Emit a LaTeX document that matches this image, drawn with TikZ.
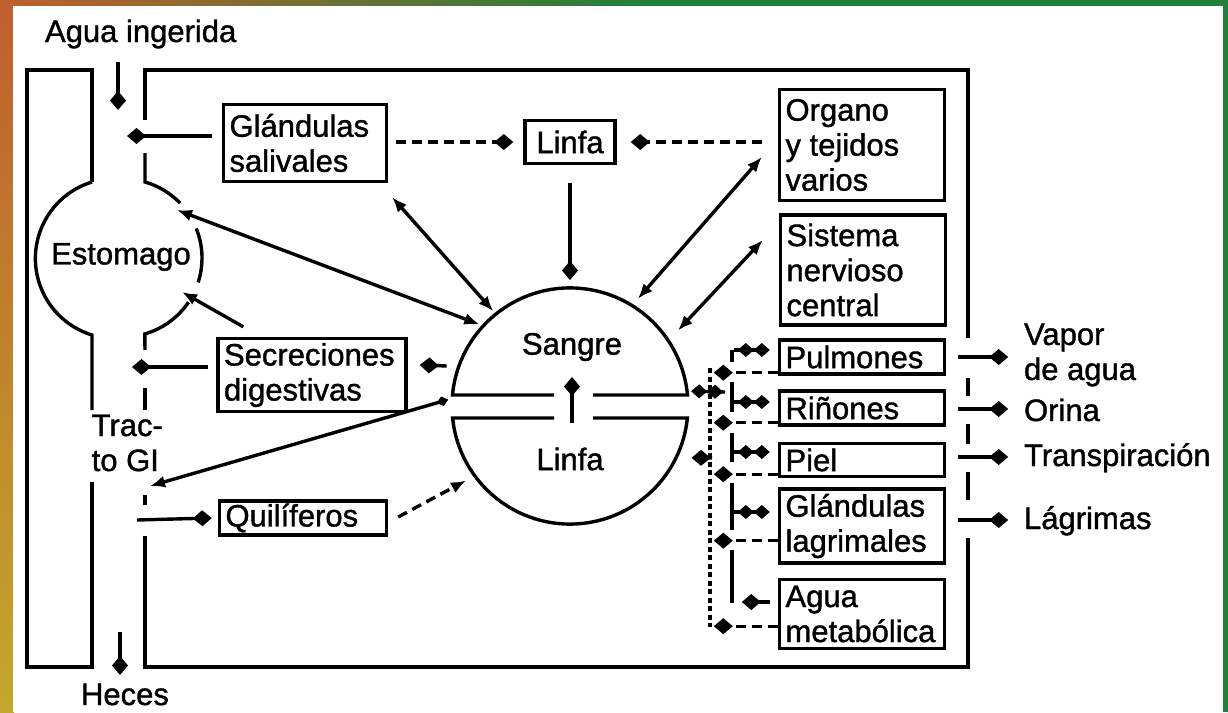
\documentclass[tikz,border=0pt]{standalone}
\usepackage{fontspec}
\setmainfont{Liberation Sans}[FakeBold=1.2]
\usetikzlibrary{arrows.meta,positioning,calc}
\definecolor{naranja}{HTML}{BF5F2F}
\definecolor{ocre}{HTML}{C2A82C}
\definecolor{verde}{HTML}{22803A}
\newcommand{\letra}{\fontsize{31}{35}\selectfont}

\begin{document}
\begin{tikzpicture}[x=1pt, y=-1pt, font=\letra, line width=3.4pt,
    caja/.style={draw, inner xsep=6pt, inner ysep=1pt, align=flush left},
    organo/.style={caja, text width=153pt},
    dia/.style={-{Diamond[length=19pt,width=16pt]}},
    ddia/.style={-{Diamond[length=16pt,width=14pt] Diamond[length=16pt,width=14pt]}},
    tri/.style={-{Latex[length=15pt,width=12pt]}},
    dtri/.style={{Latex[length=15pt,width=12pt]}-{Latex[length=15pt,width=12pt]}},
    raya/.style={dash pattern=on 10pt off 6pt},
    punteo/.style={dash pattern=on 5pt off 3.5pt}]
      %fondo
      \useasboundingbox (0,0) rectangle (1228,712);
      \shade[top color=naranja, bottom color=ocre] (0,0) rectangle (14,712);
      \shade[left color=naranja, right color=verde] (0,0) rectangle (640,7);
      \fill[verde] (640,0) rectangle (1228,7);
      \fill[verde] (1222,0) rectangle (1228,712);
      \fill[white] (13,6) rectangle (1223,712);
      %tubo digestivo
      \draw (92,182) -- (92,70) -- (27,70) -- (27,667) -- (92,667) -- (92,482);
      \draw (92,182) arc[start angle=253, end angle=107, radius=80] -- (92,410);
      \draw (145,120) -- (145,70) -- (968,70) -- (968,338);
      \draw (145,153) -- (145,182) arc[start angle=-74, end angle=-44, radius=79];
      \draw (123,258) ++(-22:79) arc[start angle=-22, end angle=18, radius=79];
      \draw (123,258) ++(34:79) arc[start angle=34, end angle=74, radius=79] -- (145,350);
      \draw (145,388) -- (145,410);
      \draw (145,495) -- (145,505);
      \draw (145,536) -- (145,667) -- (968,667) -- (968,538);
      \foreach \a/\b in {378/396,424/444,472/500}
        \draw (968,\a) -- (968,\b);
      %sangre y linfa
      \node[circle, minimum size=236pt, inner sep=0pt, outer sep=4pt] (sangre) at (570,406) {};
      \draw (554,395) -- (452.5,395) arc[start angle=185.3, end angle=354.7, radius=118] -- (593,395);
      \draw (554,418) -- (452.6,418) arc[start angle=174.2, end angle=5.8, radius=118] -- (593,418);
      \node (sangtxt) at (572,347) {Sangre};
      \node (linftxt) at (570,459) {Linfa};
      %nodes
      \node[anchor=base west] (agua) at (40,42) {Agua ingerida};
      \node[anchor=base west] (heces) at (76,705) {Heces};
      \node (estomago) at (121,257) {Estomago};
      \node[anchor=west, align=left, inner sep=0pt] (tracto) at (90,443) {Trac-\\to GI};
      \node[caja, text width=151pt, minimum height=77pt] (salivales) at (305,143) {Glándulas\\salivales};
      \node[draw, minimum width=90pt, minimum height=43pt] (linfa) at (570,142) {Linfa};
      \node[organo, minimum height=111pt] (tejidos) at (862,145) {Organo\\y tejidos\\varios};
      \node[organo, minimum height=110pt] (snc) at (863,270) {Sistema\\nervioso\\central};
      \node[caja, text width=176pt, minimum height=73pt] (secreciones) at (312,375) {Secreciones\\digestivas};
      \node[caja, text width=155pt, minimum height=34pt] (quiliferos) at (303,518) {Quilíferos};
      \node[organo, minimum height=34pt] (pulmones) at (862,357) {Pulmones};
      \node[organo, minimum height=34pt] (rinones) at (862,408) {Riñones};
      \node[organo, minimum height=33pt] (piel) at (862,460) {Piel};
      \node[organo, minimum height=74pt] (lagrimal) at (862,526) {Glándulas\\lagrimales};
      \node[organo, minimum height=69pt] (metabolica) at (862,614) {Agua\\metabólica};
      \node[anchor=west, align=left] (vapor) at (1019,355) {Vapor\\de agua};
      \node[anchor=base west] (orina) at (1019,421) {Orina};
      \node[anchor=base west] (sudor) at (1019,466) {Transpiración};
      \node[anchor=base west] (lagrimas) at (1019,529) {Lágrimas};
      %puntos libres
      \coordinate (entra) at (118,62);
      \coordinate (boca) at (118,110);
      \coordinate (recto) at (120,632);
      \coordinate (ano) at (120,675);
      \coordinate (faringe) at (127,136);
      \coordinate (cardias) at (177,210);
      \coordinate (antro) at (182,292);
      \coordinate (duodeno) at (132,367);
      \coordinate (ileon) at (150,486);
      \coordinate (yeyuno) at (137,520);
      \coordinate (bajo) at (572,423);
      \coordinate (alto) at (572,377);
      \coordinate (retorno) at (725,392);
      \coordinate (retornol) at (712,458);
      %edges
      \draw[dia] (entra) -- (boca);
      \draw[dia] (recto) -- (ano);
      \draw[dia, shorten <=10pt] (salivales.west |- faringe) -- (faringe);
      \draw[dia, shorten <=8pt] (secreciones.west |- duodeno) -- (duodeno);
      \draw[dia] (yeyuno) -- ([xshift=-6pt]quiliferos.west);
      \draw[dia] (bajo) -- (alto);
      \draw[dia, shorten <=18pt, shorten >=4pt] (linfa.south) -- (sangre.north);
      \draw[dia, raya, shorten <=8pt] (salivales.east |- linfa.west) -- ([xshift=-10pt]linfa.west);
      \draw[dia, raya] ([shift={(-16,-3)}]tejidos.west) -- ([xshift=14pt]linfa.east);
      \draw[dtri] (cardias) -- (sangre.138);
      \draw[dtri] ([shift={(4,14)}]salivales.south east) -- (sangre.129);
      \draw[dtri, shorten >=5pt] ([shift={(-16,12)}]tejidos.west) -- (sangre.58);
      \draw[dtri, shorten >=10pt] ([shift={(-16,-30)}]snc.west) -- (sangre.34);
      \draw[tri] ([shift={(27,-10)}]secreciones.north west) -- (antro);
      \draw[{Diamond[length=12pt,width=10pt]}-{Latex[length=15pt,width=12pt]}] (sangre.177) -- (ileon);
      \draw[dia, shorten <=8pt] (sangre.161) -- ([shift={(12,-10)}]secreciones.east);
      \draw[tri, raya, shorten >=6pt] ([shift={(10,-1)}]quiliferos.east) -- (sangre.216);
      %organos
      \draw[ddia] (retorno) -- (sangre.7);
      \draw[dia, shorten >=11pt] (retornol) -- (sangre.335);
      \draw[punteo] (710,368) -- (710,627);
      \foreach \a/\b in {350/362,382/412,433/462,483/530,550/603}
        \draw (732,\a) -- (732,\b);
      \foreach \n/\d in {pulmones/3,rinones/4,piel/4,lagrimal/24,metabolica/24}
        \draw[raya, dia] ([yshift=\d pt]\n.south west) -- ++(-64,0);
      \foreach \n/\d in {pulmones/7,rinones/6,piel/8,lagrimal/14}
        \draw[ddia] ([shift={(-44,-\d)}]\n.west) -- ([shift={(-8,-\d)}]\n.west);
      \draw[dia] ([shift={(-8,-12)}]metabolica.west) -- ([shift={(-36,-12)}]metabolica.west);
      \foreach \n/\d in {pulmones/0,rinones/1,piel/-3,lagrimal/-6}
        \draw[dia] ([shift={(12,\d)}]\n.east) -- ([shift={(62,\d)}]\n.east);
    \end{tikzpicture}
\end{document}
